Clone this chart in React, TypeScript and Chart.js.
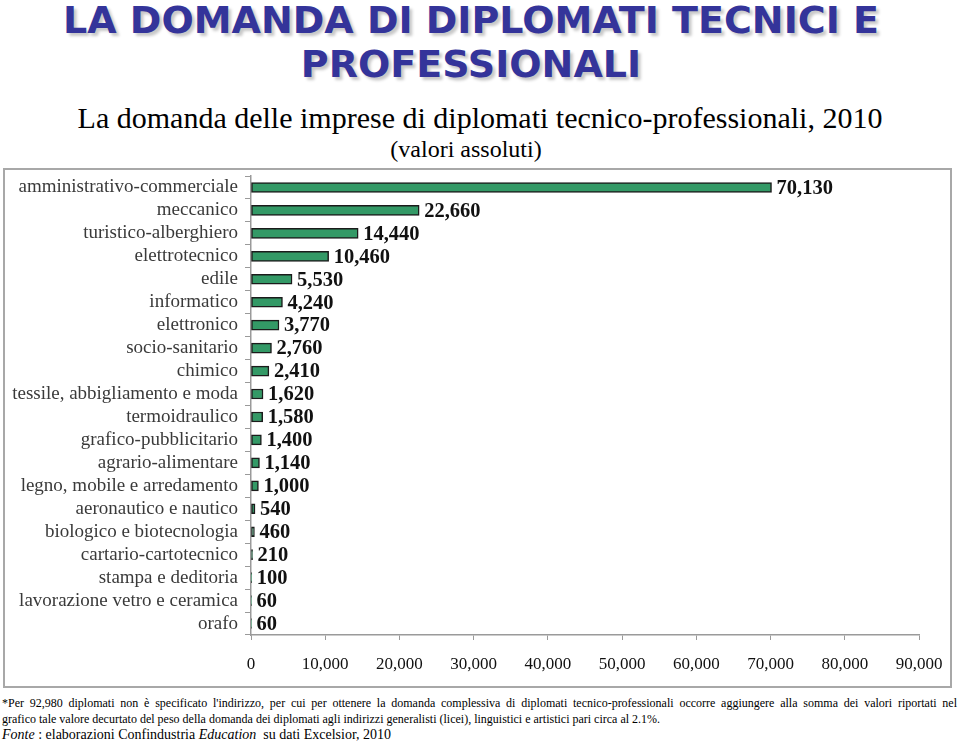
import React, { useEffect, useRef } from "react";
import { Chart, registerables } from "chart.js";

Chart.register(...registerables);

const categories = [
  "amministrativo-commerciale",
  "meccanico",
  "turistico-alberghiero",
  "elettrotecnico",
  "edile",
  "informatico",
  "elettronico",
  "socio-sanitario",
  "chimico",
  "tessile, abbigliamento e moda",
  "termoidraulico",
  "grafico-pubblicitario",
  "agrario-alimentare",
  "legno, mobile e arredamento",
  "aeronautico e nautico",
  "biologico e biotecnologia",
  "cartario-cartotecnico",
  "stampa e deditoria",
  "lavorazione vetro e ceramica",
  "orafo",
];

const values = [
  70130, 22660, 14440, 10460, 5530, 4240, 3770, 2760, 2410, 1620, 1580, 1400,
  1140, 1000, 540, 460, 210, 100, 60, 60,
];

const xMin = 0;
const xMax = 90000;
const xStep = 10000;

const fmt = (v: number) => Number(v).toLocaleString("en-US");

const barValuesPlugin = {
  id: "barValues",
  afterDatasetsDraw(chart: any) {
    const ctx = chart.ctx;
    const meta = chart.getDatasetMeta(0);
    const data = chart.data.datasets[0].data as number[];
    ctx.save();
    ctx.font = "bold 20.5px 'Liberation Serif'";
    ctx.fillStyle = "#111111";
    ctx.textBaseline = "middle";
    ctx.textAlign = "left";
    meta.data.forEach((el: any, i: number) => {
      ctx.fillText(fmt(data[i]), el.x + 5, el.y + 1);
    });
    ctx.restore();
  },
};

function BarChart() {
  const ref = useRef<HTMLCanvasElement | null>(null);
  useEffect(() => {
    if (!ref.current) return;
    const chart = new Chart(ref.current, {
      type: "bar",
      data: {
        labels: categories,
        datasets: [
          {
            data: values,
            backgroundColor: "#339966",
            borderColor: "#1b1b1b",
            borderWidth: 1.5,
            borderSkipped: false,
            barThickness: 10,
          },
        ],
      },
      options: {
        indexAxis: "y",
        responsive: false,
        animation: false,
        layout: { padding: { top: 5, right: 32, left: 0, bottom: 0 } },
        plugins: {
          legend: { display: false },
          tooltip: { enabled: false },
        },
        scales: {
          x: {
            min: xMin,
            max: xMax,
            ticks: {
              stepSize: xStep,
              callback: (v: any) => fmt(v),
              font: { family: "'Liberation Serif'", size: 17 },
              color: "#111111",
              padding: 14,
              maxRotation: 0,
            },
            grid: {
              drawOnChartArea: false,
              drawTicks: true,
              tickLength: 5,
              color: "#9a9a9a",
            },
            border: { color: "#9a9a9a", width: 1.5 },
            afterFit(s: any) {
              s.height = 51;
              s.paddingLeft = 0;
              s.paddingRight = 0;
            },
          },
          y: {
            ticks: {
              font: { family: "'Liberation Serif'", size: 19 },
              color: "#3a3a3a",
              padding: 7,
              autoSkip: false,
            },
            grid: {
              drawOnChartArea: false,
              drawTicks: true,
              tickLength: 6,
              color: "#9a9a9a",
              offset: true,
            },
            border: { color: "#9a9a9a", width: 1.5 },
            afterFit(s: any) {
              s.width = 246;
              s.paddingTop = 0;
              s.paddingBottom = 0;
            },
          },
        },
      } as any,
      plugins: [barValuesPlugin],
    });
    return () => chart.destroy();
  }, []);
  return (
    <canvas
      ref={ref}
      width={946}
      height={515}
      style={{ position: "absolute", left: 5, top: 171, width: 946, height: 515 }}
    />
  );
}

export default function App() {
  const serif = "'Liberation Serif', 'Times New Roman', serif";
  return (
    <div
      style={{
        position: "absolute",
        left: 0,
        top: 0,
        width: 960,
        height: 742,
        background: "#ffffff",
        overflow: "hidden",
      }}
    >
      <div
        style={{
          position: "absolute",
          left: 0,
          top: -2,
          width: 942,
          textAlign: "center",
          fontFamily: "'DejaVu Sans', sans-serif",
          fontWeight: "bold",
          fontSize: 38,
          lineHeight: "44px",
          color: "#34349a",
          textShadow: "3px 3px 3px rgba(0,0,0,0.22)",
        }}
      >
        LA DOMANDA DI DIPLOMATI TECNICI E
        <br />
        PROFESSIONALI
      </div>
      <div
        style={{
          position: "absolute",
          left: 0,
          top: 101,
          width: 960,
          textAlign: "center",
          fontFamily: serif,
          fontSize: 30,
          lineHeight: "34px",
          color: "#000",
        }}
      >
        La domanda delle imprese di diplomati tecnico-professionali, 2010
      </div>
      <div
        style={{
          position: "absolute",
          left: 0,
          top: 135,
          width: 932,
          textAlign: "center",
          fontFamily: serif,
          fontSize: 24,
          lineHeight: "28px",
          color: "#000",
        }}
      >
        (valori assoluti)
      </div>
      <div
        style={{
          position: "absolute",
          left: 3,
          top: 168,
          width: 949,
          height: 520,
          border: "2px solid #a8a8a8",
          boxSizing: "border-box",
        }}
      />
      <BarChart />
      <div
        style={{
          position: "absolute",
          left: 2,
          top: 695,
          width: 955,
          fontFamily: serif,
          fontSize: 12,
          lineHeight: "16px",
          color: "#000",
          whiteSpace: "nowrap",
        }}
      >
        <div style={{ textAlignLast: "justify", textAlign: "justify" }}>
          *Per 92,980 diplomati non è specificato l'indirizzo, per cui per ottenere la domanda complessiva di diplomati tecnico-professionali occorre aggiungere alla somma dei valori riportati nel
        </div>
        <div>
          grafico tale valore decurtato del peso della domanda dei diplomati agli indirizzi generalisti (licei), linguistici e artistici pari circa al 2.1%.
        </div>
        <div style={{ fontSize: 14, lineHeight: "16px" }}>
          <i>Fonte</i> : elaborazioni Confindustria <i>Education</i>&nbsp; su dati Excelsior, 2010
        </div>
      </div>
    </div>
  );
}
